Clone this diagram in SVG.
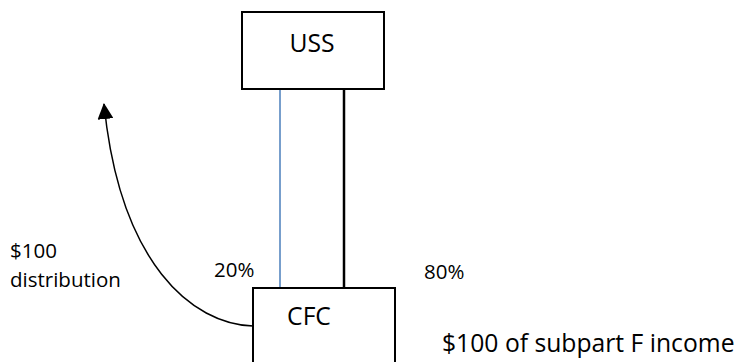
<svg xmlns="http://www.w3.org/2000/svg" width="751" height="362" viewBox="0 0 751 362">
  <defs>
    <style>
      .box { fill: #ffffff; stroke: #000000; stroke-width: 2; }
      .lbl { font-family: "Open Sans", "Noto Sans", sans-serif; fill: #000000; }
      .big { font-size: 24.7px; }
      .small { font-size: 20.5px; }
    </style>
    <marker id="arrowhead" markerUnits="userSpaceOnUse" markerWidth="16" markerHeight="16" viewBox="0 0 16 16" refX="15" refY="8" orient="auto">
      <path d="M0,0 L16,8 L0,16 Z" fill="#000000"/>
    </marker>
  </defs>
  <rect width="751" height="362" fill="#ffffff"/>

  <g id="connectors">
    <line x1="280" y1="89" x2="280" y2="288" stroke="#4a7ebb" stroke-width="1.5"/>
    <line x1="344" y1="89" x2="344" y2="288" stroke="#000000" stroke-width="2.5"/>
    <path d="M253,326 C192,324 120,264 104,104" fill="none" stroke="#000000" stroke-width="1.5" marker-end="url(#arrowhead)"/>
  </g>

  <g id="uss">
    <rect class="box" x="242" y="12" width="142" height="77"/>
    <text class="lbl big" x="312" y="52" text-anchor="middle">USS</text>
  </g>

  <g id="cfc">
    <rect class="box" x="253" y="288" width="142" height="80"/>
    <text class="lbl big" x="309" y="325" text-anchor="middle">CFC</text>
  </g>

  <g id="labels">
    <text class="lbl small" x="10" y="258">$100</text>
    <text class="lbl small" x="10" y="287">distribution</text>
    <text class="lbl small" x="214" y="277">20%</text>
    <text class="lbl small" x="424" y="279">80%</text>
    <text class="lbl big" x="442" y="352">$100 of subpart F income</text>
  </g>
</svg>
